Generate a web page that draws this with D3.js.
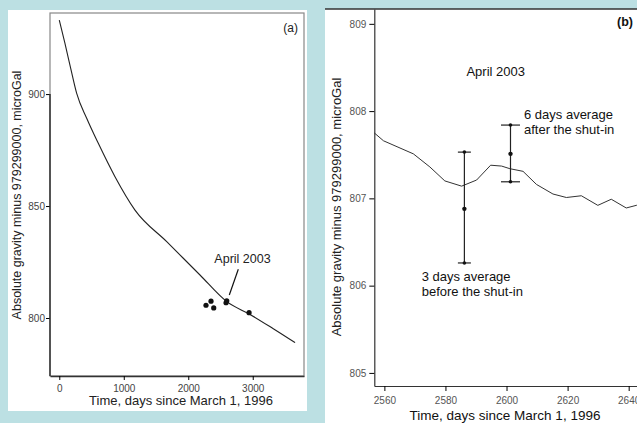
<!DOCTYPE html>
<html>
<head>
<meta charset="utf-8">
<script src="https://cdn.jsdelivr.net/npm/d3@7"></script>
<style>
  body { margin: 0; background: #bce0e3; }
  svg { display: block; font-family: "Liberation Sans", Arial, sans-serif; }
  .tick text { fill: #444; }
</style>
</head>
<body>
<svg id="area" width="637" height="423"></svg>
<script>

// panel (a): fitted curve and measured points
let curveDays = [0, 88, 177, 270, 425, 605, 864, 1174, 1666, 2182, 2597, 2958, 3319, 3656];
let curveGravity = [933, 922.6, 911.5, 900.3, 889.2, 878, 863.1, 848.2, 834.1, 819.2, 807.3, 801.6, 795.2, 789];
let pointDays = [2275, 2353, 2395, 2586, 2597, 2943];
let pointGravity = [805.7, 807.5, 804.5, 806.8, 807.7, 802.4];
let ticksA_x = [0, 1000, 2000, 3000];
let ticksA_y = [800, 850, 900];

// panel (b): April 2003 detail
let lineDays = [2556.7, 2559.7, 2569.5, 2574.9, 2579.8, 2585.3, 2590.2, 2594.8, 2598.4, 2601.1, 2605.4, 2609.8, 2615.2, 2619.6, 2624.5, 2629.9, 2634.3, 2639.2, 2642.5, 2645];
let lineGravity = [807.75, 807.66, 807.51, 807.36, 807.20, 807.14, 807.21, 807.38, 807.37, 807.34, 807.31, 807.16, 807.05, 807.01, 807.03, 806.92, 806.99, 806.89, 806.92, 806.94];
let avgLabels = ["3 days average", "6 days average"];
let avgDays = [2586.2, 2601.3];
let avgMean = [806.88, 807.51];
let avgLow = [806.26, 807.19];
let avgHigh = [807.53, 807.84];
let ticksB_x = [2560, 2580, 2600, 2620, 2640];
let ticksB_y = [805, 806, 807, 808, 809];

let svg = d3.select("#area");

// ---------- panel (a) ----------
svg.append("rect").attr("x", 8).attr("y", 10).attr("width", 299).attr("height", 401).style("fill", "white");

let xA = d3.scaleLinear().domain([-144, 3795]).range([50, 304]);
let yA = d3.scaleLinear().domain([774.1, 936.2]).range([376, 13]);

let gA = svg.append("g");
gA.append("rect").attr("x", 50).attr("y", 13).attr("width", 254).attr("height", 363)
  .style("fill", "none").style("stroke", "#888").style("stroke-width", 1.2);

let bottomA = d3.axisBottom(xA).tickValues(ticksA_x).tickFormat(d3.format("d")).tickSize(4).tickSizeOuter(0);
gA.append("g").attr("transform", "translate(0,376)").call(bottomA)
  .call(g => g.select(".domain").style("stroke", "#333").style("stroke-width", 1.5))
  .selectAll("text").style("font-size", "10px").attr("dy", "0.9em");

let leftA = d3.axisLeft(yA).tickValues(ticksA_y).tickFormat(d3.format("d")).tickSize(4).tickSizeOuter(0);
gA.append("g").attr("transform", "translate(50,0)").call(leftA)
  .call(g => g.select(".domain").remove())
  .selectAll("text").style("font-size", "10px").attr("x", -5);
gA.append("line").attr("x1", 50).attr("x2", 50).attr("y1", yA(900)).attr("y2", 376)
  .style("stroke", "#333").style("stroke-width", 1.5);

let lineA = d3.line()
  .x((d, i) => xA(curveDays[i]))
  .y(d => yA(d))
  .curve(d3.curveMonotoneX);
gA.append("path").datum(curveGravity).attr("d", lineA)
  .style("fill", "none").style("stroke", "#222").style("stroke-width", 1.1);

gA.selectAll(".pt").data(pointGravity).join("circle")
  .attr("cx", (d, i) => xA(pointDays[i])).attr("cy", d => yA(d)).attr("r", 2.6)
  .style("fill", "#111");

gA.append("line").attr("x1", 238.3).attr("y1", 269.3).attr("x2", 229.3).attr("y2", 295)
  .style("stroke", "#111").style("stroke-width", 1.2);
gA.append("text").attr("x", 242.5).attr("y", 263).attr("text-anchor", "middle")
  .style("font-size", "12.5px").style("fill", "#222").text("April 2003");
gA.append("text").attr("x", 298).attr("y", 31.5).attr("text-anchor", "end")
  .style("font-size", "12px").style("fill", "#222").text("(a)");
gA.append("text").attr("x", 181).attr("y", 405).attr("text-anchor", "middle")
  .style("font-size", "13px").style("fill", "#222").text("Time, days since March 1, 1996");
gA.append("text").attr("transform", "translate(20.5,195) rotate(-90)").attr("text-anchor", "middle")
  .style("font-size", "12.5px").style("fill", "#222").text("Absolute gravity minus 979299000, microGal");

// ---------- panel (b) ----------
svg.append("rect").attr("x", 325).attr("y", 9).attr("width", 320).attr("height", 420).style("fill", "white");

let xB = d3.scaleLinear().domain([2556.7, 2646]).range([374.3, 647]);
let yB = d3.scaleLinear().domain([804.85, 809.17]).range([386, 9]);

let gB = svg.append("g");
gB.append("line").attr("x1", 325).attr("x2", 637).attr("y1", 9).attr("y2", 9)
  .style("stroke", "#333").style("stroke-width", 1.3);

let bottomB = d3.axisBottom(xB).tickValues(ticksB_x).tickFormat(d3.format("d")).tickSize(5).tickSizeOuter(0);
gB.append("g").attr("transform", "translate(0,386)").call(bottomB)
  .call(g => g.select(".domain").style("stroke", "#333").style("stroke-width", 1.2))
  .selectAll("text").style("font-size", "10px").style("fill", "#555").attr("dy", "0.95em");

let leftB = d3.axisLeft(yB).tickValues(ticksB_y).tickFormat(d3.format("d")).tickSize(5).tickSizeOuter(0);
gB.append("g").attr("transform", "translate(374.3,0)").call(leftB)
  .call(g => g.select(".domain").style("stroke", "#333").style("stroke-width", 1.2))
  .selectAll("text").style("font-size", "10px").style("fill", "#555").attr("x", -8);

let lineB = d3.line()
  .x((d, i) => xB(lineDays[i]))
  .y(d => yB(d));
gB.append("path").datum(lineGravity).attr("d", lineB)
  .style("fill", "none").style("stroke", "#333").style("stroke-width", 1);

let capHalf = [6.5, 9.5];
avgDays.forEach((t, i) => {
  let x = xB(t);
  gB.append("line").attr("x1", x).attr("x2", x).attr("y1", yB(avgHigh[i])).attr("y2", yB(avgLow[i]))
    .style("stroke", "#222").style("stroke-width", 1.2);
  [avgHigh[i], avgLow[i]].forEach(v => {
    gB.append("line").attr("x1", x - capHalf[i]).attr("x2", x + capHalf[i]).attr("y1", yB(v)).attr("y2", yB(v))
      .style("stroke", "#222").style("stroke-width", 1.2);
  });
  [avgHigh[i], avgMean[i], avgLow[i]].forEach(v => {
    gB.append("circle").attr("cx", x).attr("cy", yB(v)).attr("r", v === avgMean[i] ? 2.2 : 1.8)
      .style("fill", "#111");
  });
});

gB.append("text").attr("x", 495.7).attr("y", 76).attr("text-anchor", "middle")
  .style("font-size", "13px").style("fill", "#111").text("April 2003");
gB.append("text").attr("x", 524).attr("y", 119).style("font-size", "13px").style("fill", "#111").text(avgLabels[1]);
gB.append("text").attr("x", 524).attr("y", 133.5).style("font-size", "13px").style("fill", "#111").text("after the shut-in");
gB.append("text").attr("x", 421.7).attr("y", 280.5).style("font-size", "13px").style("fill", "#111").text(avgLabels[0]);
gB.append("text").attr("x", 421.7).attr("y", 295.5).style("font-size", "13px").style("fill", "#111").text("before the shut-in");
gB.append("text").attr("x", 625).attr("y", 25.5).attr("text-anchor", "middle")
  .style("font-size", "12.5px").style("font-weight", "bold").style("fill", "#111").text("(b)");
gB.append("text").attr("x", 505).attr("y", 419.5).attr("text-anchor", "middle")
  .style("font-size", "13.5px").style("fill", "#111").text("Time, days since March 1, 1996");
gB.append("text").attr("transform", "translate(340.5,207) rotate(-90)").attr("text-anchor", "middle")
  .style("font-size", "13px").style("fill", "#222").text("Absolute gravity minus 979299000, microGal");

</script>
</body>
</html>
